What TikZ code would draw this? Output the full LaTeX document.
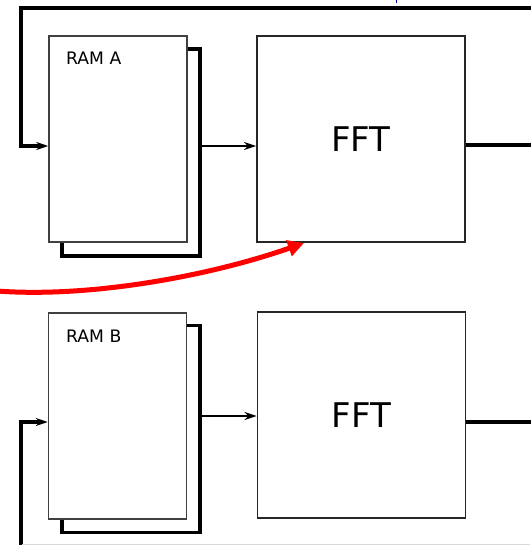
\documentclass[tikz,border=0pt]{standalone}
\usepackage{fontspec}
\setmainfont{DejaVu Sans}
\usetikzlibrary{arrows.meta}
\begin{document}
\begin{tikzpicture}[x=1pt,y=-1pt,
  backbox/.style={draw=black,line width=3.2pt,minimum width=138pt,minimum height=207pt,inner sep=0pt},
  frontbox/.style={draw=black!75,fill=white,line width=1.5pt,minimum width=138pt,minimum height=206pt,inner sep=0pt},
  fftbox/.style={draw=black!85,line width=1.9pt,minimum width=208pt,minimum height=206pt,inner sep=0pt,font=\fontsize{34}{40}\selectfont},
  ramlab/.style={anchor=base west,inner sep=0pt,font=\fontsize{17.2}{20}\selectfont},
  wire/.style={line width=3.4pt},
  arr/.style={line width=2.8pt,-{Stealth[length=12pt,width=8pt]}},
  fbarr/.style={line width=3.4pt,-{Stealth[length=12pt,width=8pt]}},
]
\useasboundingbox (0,0) rectangle (530,545);
% top row
\node[backbox] (ramAback) at (131,152.5) {};
\node[frontbox] (ramA) at (118,139) {};
\node[ramlab] (labA) at (66,64.5) {RAM A};
\node[fftbox] (fftA) at (361,139) {FFT};
% bottom row
\node[backbox] (ramBback) at (131,429) {};
\node[frontbox] (ramB) at (117.5,416) {};
\node[ramlab] (labB) at (66,342) {RAM B};
\node[fftbox] (fftB) at (361.5,415) {FFT};
% coordinates
\coordinate (topR) at (532,8);
\coordinate (topL) at (21,8);
\coordinate (inA) at (21,146);
\coordinate (outA) at (532,145);
\coordinate (botS) at (21,547);
\coordinate (inB) at (21,422);
\coordinate (outB) at (532,422);
\coordinate (grayR) at (530,544);
\coordinate (grayL) at (22,544);
\coordinate (redS) at (-3,291);
% feedback into RAM A
\draw[fbarr] (topR) -- (topL) -- (inA) -- (ramA.west |- inA);
% RAM A to FFT A
\draw[arr] (ramAback.east |- 0,146) -- (fftA.west |- 0,146);
% FFT A output
\draw[wire] (fftA.east |- outA) -- (outA);
% feedback into RAM B
\draw[fbarr] (botS) -- (inB) -- (ramB.west |- inB);
% RAM B to FFT B
\draw[arr] (ramBback.east |- 0,416) -- (fftB.west |- 0,416);
% FFT B output
\draw[wire] (fftB.east |- outB) -- (outB);
% faint bottom line
\draw[black!15,line width=1pt] (grayL) -- (grayR);
% small blue mark at top
\draw[blue!60!black,line width=1pt] (396,0) -- (396,3);
% red arrow
\draw[red,line width=5pt,-{Triangle[length=16pt,width=16pt]}] (redS) .. controls (90,298) and (210,276) .. ([xshift=48pt]fftA.south west);
\end{tikzpicture}
\end{document}
